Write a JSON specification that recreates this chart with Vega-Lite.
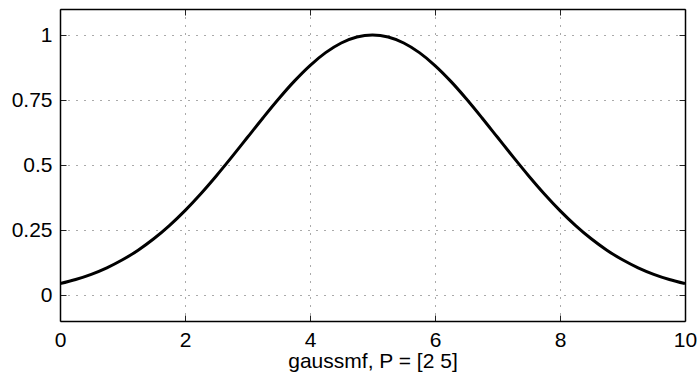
{
  "$schema": "https://vega.github.io/schema/vega-lite/v6.json",
  "width": 625,
  "height": 312,
  "autosize": {"type": "none"},
  "padding": {"left": 60, "top": 9, "right": 14, "bottom": 54},
  "background": "white",
  "config": {
    "view": {"stroke": null},
    "axis": {
      "labelFont": "Liberation Sans",
      "titleFont": "Liberation Sans",
      "labelFontSize": 21,
      "titleFontSize": 21,
      "labelColor": "black",
      "titleColor": "black",
      "titleFontWeight": "normal",
      "domainColor": "black",
      "domainWidth": 1.5,
      "tickColor": "#222",
      "tickWidth": 1,
      "gridColor": "#555",
      "gridDash": [1, 7],
      "gridWidth": 1,
      "gridOpacity": 1
    }
  },
  "data": {"values": [
    {"x": 0, "y": 0.04394}, {"x": 0.25, "y": 0.05959}, {"x": 0.5, "y": 0.07956}, {"x": 0.75, "y": 0.10458},
    {"x": 1, "y": 0.13534}, {"x": 1.25, "y": 0.17242}, {"x": 1.5, "y": 0.21627}, {"x": 1.75, "y": 0.26705},
    {"x": 2, "y": 0.32465}, {"x": 2.25, "y": 0.38856}, {"x": 2.5, "y": 0.45783}, {"x": 2.75, "y": 0.5311},
    {"x": 3, "y": 0.60653}, {"x": 3.25, "y": 0.68195}, {"x": 3.5, "y": 0.75484}, {"x": 3.75, "y": 0.82259},
    {"x": 4, "y": 0.8825}, {"x": 4.25, "y": 0.93211}, {"x": 4.5, "y": 0.96923}, {"x": 4.75, "y": 0.99222},
    {"x": 5, "y": 1},
    {"x": 5.25, "y": 0.99222}, {"x": 5.5, "y": 0.96923}, {"x": 5.75, "y": 0.93211}, {"x": 6, "y": 0.8825},
    {"x": 6.25, "y": 0.82259}, {"x": 6.5, "y": 0.75484}, {"x": 6.75, "y": 0.68195}, {"x": 7, "y": 0.60653},
    {"x": 7.25, "y": 0.5311}, {"x": 7.5, "y": 0.45783}, {"x": 7.75, "y": 0.38856}, {"x": 8, "y": 0.32465},
    {"x": 8.25, "y": 0.26705}, {"x": 8.5, "y": 0.21627}, {"x": 8.75, "y": 0.17242}, {"x": 9, "y": 0.13534},
    {"x": 9.25, "y": 0.10458}, {"x": 9.5, "y": 0.07956}, {"x": 9.75, "y": 0.05959}, {"x": 10, "y": 0.04394}
  ]},
  "resolve": {"axis": {"x": "independent", "y": "independent"}},
  "layer": [
    {
      "mark": {"type": "line", "color": "black", "strokeWidth": 3, "interpolate": "monotone", "clip": true},
      "encoding": {
        "x": {"field": "x", "type": "quantitative",
          "scale": {"domain": [0, 10], "nice": false, "zero": false},
          "axis": {"orient": "bottom", "values": [0, 2, 4, 6, 8, 10], "title": "gaussmf, P = [2 5]",
            "tickSize": -6, "labelPadding": 14, "titlePadding": 0, "grid": true,
            "labelExpr": "datum.value + ''", "labelFlush": false}},
        "y": {"field": "y", "type": "quantitative",
          "scale": {"domain": [-0.1, 1.1], "nice": false, "zero": false},
          "axis": {"orient": "left", "values": [0, 0.25, 0.5, 0.75, 1], "title": null,
            "tickSize": -6, "labelPadding": 14, "grid": true, "labelExpr": "datum.value + ''"}}
      }
    },
    {
      "mark": {"type": "line", "opacity": 0},
      "encoding": {
        "x": {"field": "x", "type": "quantitative",
          "scale": {"domain": [0, 10], "nice": false, "zero": false},
          "axis": {"orient": "top", "values": [0, 2, 4, 6, 8, 10], "title": null, "labels": false,
            "tickSize": -6, "grid": false}},
        "y": {"field": "y", "type": "quantitative",
          "scale": {"domain": [-0.1, 1.1], "nice": false, "zero": false},
          "axis": {"orient": "right", "values": [0, 0.25, 0.5, 0.75, 1], "title": null, "labels": false,
            "tickSize": -6, "grid": false}}
      }
    }
  ]
}
